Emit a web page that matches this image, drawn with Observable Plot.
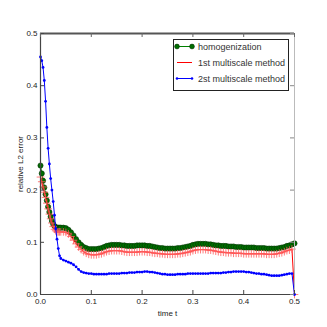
<!DOCTYPE html>
<html><head><meta charset="utf-8">
<script src="https://cdn.jsdelivr.net/npm/d3@7"></script>
<script src="https://cdn.jsdelivr.net/npm/@observablehq/plot@0.6"></script>
<style>
html,body{margin:0;padding:0;background:#fff;}
#wrap{position:relative;width:327px;height:327px;font-family:"Liberation Sans",Arial,sans-serif;}
#legend{position:absolute;left:173px;top:39px;}
</style></head><body><div id="wrap"></div>
<script>
const t = [0, 0.0025, 0.005, 0.0075, 0.01, 0.0125, 0.015, 0.0175, 0.02, 0.0225, 0.025, 0.0275, 0.03, 0.0325, 0.035, 0.0375, 0.04,
  0.045, 0.05, 0.055, 0.06, 0.065, 0.07, 0.075, 0.08, 0.085, 0.09, 0.095, 0.1,
  0.105, 0.11, 0.115, 0.12, 0.125, 0.13, 0.135, 0.14, 0.145, 0.15, 0.155, 0.16, 0.165, 0.17, 0.175, 0.18, 0.185, 0.19, 0.195, 0.2,
  0.205, 0.21, 0.215, 0.22, 0.225, 0.23, 0.235, 0.24, 0.245, 0.25, 0.255, 0.26, 0.265, 0.27, 0.275, 0.28, 0.285, 0.29, 0.295, 0.3,
  0.305, 0.31, 0.315, 0.32, 0.325, 0.33, 0.335, 0.34, 0.345, 0.35, 0.355, 0.36, 0.365, 0.37, 0.375, 0.38, 0.385, 0.39, 0.395, 0.4,
  0.405, 0.41, 0.415, 0.42, 0.425, 0.43, 0.435, 0.44, 0.445, 0.45, 0.455, 0.46, 0.465, 0.47, 0.475, 0.48, 0.485, 0.49, 0.495, 0.5];

const homogenization = [0.247, 0.232, 0.218, 0.205, 0.192, 0.18, 0.168, 0.158, 0.149, 0.141, 0.135, 0.131, 0.129, 0.128, 0.128, 0.128, 0.128,
  0.128, 0.127, 0.124, 0.119, 0.113, 0.106, 0.1, 0.095, 0.091, 0.089, 0.087, 0.087,
  0.087, 0.087, 0.088, 0.089, 0.091, 0.093, 0.094, 0.095, 0.095, 0.095, 0.095, 0.094, 0.094, 0.093, 0.093, 0.093, 0.093, 0.094, 0.094, 0.094,
  0.094, 0.093, 0.093, 0.092, 0.091, 0.09, 0.089, 0.089, 0.088, 0.088, 0.088, 0.088, 0.088, 0.089, 0.089, 0.09, 0.091, 0.092, 0.093, 0.095,
  0.096, 0.097, 0.097, 0.097, 0.097, 0.096, 0.096, 0.095, 0.094, 0.094, 0.093, 0.093, 0.093, 0.092, 0.092, 0.092, 0.091, 0.091, 0.091, 0.09,
  0.09, 0.09, 0.09, 0.09, 0.089, 0.089, 0.089, 0.089, 0.088, 0.088, 0.088, 0.088, 0.088, 0.089, 0.09, 0.091, 0.093, 0.094, 0.096, 0.098];

const multiscale1 = [0.225, 0.216, 0.206, 0.196, 0.186, 0.175, 0.164, 0.154, 0.145, 0.137, 0.13, 0.125, 0.122, 0.12, 0.12, 0.12, 0.12,
  0.12, 0.119, 0.116, 0.111, 0.104, 0.097, 0.091, 0.086, 0.082, 0.079, 0.077, 0.076,
  0.076, 0.076, 0.077, 0.078, 0.08, 0.082, 0.083, 0.084, 0.084, 0.084, 0.084, 0.083, 0.082, 0.081, 0.081, 0.081, 0.081, 0.081, 0.082, 0.082,
  0.082, 0.081, 0.081, 0.08, 0.079, 0.079, 0.078, 0.078, 0.077, 0.077, 0.077, 0.077, 0.077, 0.078, 0.078, 0.079, 0.08, 0.081, 0.082, 0.084,
  0.085, 0.086, 0.086, 0.086, 0.086, 0.085, 0.085, 0.084, 0.083, 0.082, 0.081, 0.081, 0.08, 0.08, 0.08, 0.079, 0.079, 0.079, 0.079, 0.078,
  0.078, 0.078, 0.078, 0.078, 0.078, 0.078, 0.078, 0.078, 0.077, 0.077, 0.077, 0.077, 0.078, 0.079, 0.08, 0.082, 0.084, 0.085, 0.087, 0.0];

const multiscale2 = [0.455, 0.448, 0.435, 0.41, 0.37, 0.32, 0.28, 0.25, 0.222, 0.2, 0.178, 0.152, 0.126, 0.106, 0.088, 0.074, 0.069,
  0.066, 0.064, 0.062, 0.06, 0.057, 0.053, 0.048, 0.044, 0.042, 0.041, 0.04, 0.04,
  0.039, 0.039, 0.039, 0.039, 0.039, 0.039, 0.04, 0.04, 0.04, 0.04, 0.04, 0.041, 0.041, 0.041, 0.042, 0.042, 0.042, 0.043, 0.043, 0.043,
  0.044, 0.044, 0.043, 0.043, 0.042, 0.041, 0.04, 0.039, 0.039, 0.038, 0.038, 0.038, 0.038, 0.039, 0.039, 0.039, 0.039, 0.04, 0.04, 0.04,
  0.04, 0.04, 0.04, 0.04, 0.04, 0.04, 0.041, 0.041, 0.041, 0.041, 0.041, 0.042, 0.042, 0.043, 0.043, 0.044, 0.044, 0.044, 0.044, 0.044,
  0.043, 0.043, 0.042, 0.041, 0.04, 0.04, 0.039, 0.039, 0.038, 0.037, 0.036, 0.036, 0.036, 0.036, 0.037, 0.038, 0.039, 0.04, 0.04, 0.0];

const seriesNames = ["homogenization", "1st multiscale method", "2st multiscale method"];
const xTicks = [0, 0.1, 0.2, 0.3, 0.4, 0.5];
const yTicks = [0, 0.1, 0.2, 0.3, 0.4, 0.5];
const xDomain = [0, 0.5];
const yDomain = [0, 0.5];
const xLabel = "time t";
const yLabel = "relative L2 error";

const rows = t.map((tt, i) => ({t: tt, h: homogenization[i], a: multiscale1[i], b: multiscale2[i]}));

const W = 327, H = 327, mL = 40, mR = 33, mT = 33, mB = 33;
const iw = W - mL - mR, ih = H - mT - mB;
const fmt = d3.format(".1f");

const chart = Plot.plot({
  width: W, height: H,
  marginLeft: mL, marginRight: mR, marginTop: mT, marginBottom: mB,
  style: {fontFamily: "'Liberation Sans', Arial, sans-serif", fontSize: "8px", color: "#222", background: "white", overflow: "visible"},
  x: {domain: xDomain},
  y: {domain: yDomain},
  marks: [
    Plot.axisX(xTicks, {tickSize: 0, tickPadding: 4, tickFormat: fmt, label: xLabel, labelArrow: "none", labelAnchor: "center", labelOffset: 21}),
    Plot.axisY(yTicks, {tickSize: 0, tickPadding: 3, tickFormat: fmt, label: yLabel, labelArrow: "none", labelAnchor: "center", labelOffset: 23}),
    Plot.line(rows, {x: "t", y: "h", stroke: "#008000", strokeWidth: 1}),
    Plot.dot(rows, {x: "t", y: "h", r: 2.6, fill: "#006e00", stroke: "#003300", strokeWidth: 0.6}),
    Plot.line(rows, {x: "t", y: "a", stroke: "#ff0000", strokeWidth: 1}),
    Plot.dot(rows, {x: "t", y: "a", symbol: "plus", r: 2.6, stroke: "#ff5a5a", strokeWidth: 0.8}),
    Plot.line(rows, {x: "t", y: "b", stroke: "#0000ff", strokeWidth: 1}),
    Plot.dot(rows, {x: "t", y: "b", r: 1.4, fill: "#0000ff"}),
    Plot.ruleX([xDomain[0]], {stroke: "#444", strokeWidth: 1.2}),
    Plot.ruleX([xDomain[1]], {stroke: "#bbb", strokeWidth: 1}),
    Plot.ruleY([yDomain[0]], {stroke: "#444", strokeWidth: 1.2}),
    Plot.ruleY([yDomain[1]], {stroke: "#555", strokeWidth: 2}),
    Plot.tickY(yTicks, {y: d => d, insetRight: iw - 4, stroke: "#444"}),
    Plot.tickY(yTicks, {y: d => d, insetLeft: iw - 4, stroke: "#888"}),
    Plot.tickX(xTicks, {x: d => d, insetTop: ih - 4, stroke: "#444"}),
    Plot.tickX(xTicks, {x: d => d, insetBottom: ih - 4, stroke: "#666"})
  ]
});
const wrap = document.getElementById("wrap");
wrap.appendChild(chart);

// Legend (layout overlay)
const legendColors = ["#008000", "#ff0000", "#0000ff"];
const lw = 115, lh = 51;
const lg = d3.create("svg").attr("id", "legend").attr("width", lw + 1).attr("height", lh + 1);
lg.append("rect").attr("x", 0.5).attr("y", 0.5).attr("width", lw).attr("height", lh)
  .attr("fill", "white").attr("stroke", "#222").attr("stroke-width", 1);
seriesNames.forEach((name, i) => {
  const cy = 7.5 + i * 16;
  const g = lg.append("g");
  g.append("line").attr("x1", 4).attr("x2", 19).attr("y1", cy).attr("y2", cy)
    .attr("stroke", legendColors[i]).attr("stroke-width", 1);
  if (i === 0) {
    [4, 19].forEach(cx => g.append("circle").attr("cx", cx).attr("cy", cy).attr("r", 2.4)
      .attr("fill", "#006e00").attr("stroke", "#003300").attr("stroke-width", 0.6));
  } else if (i === 2) {
    [4, 19].forEach(cx => g.append("circle").attr("cx", cx).attr("cy", cy).attr("r", 1.3).attr("fill", "#0000ff"));
  }
  g.append("text").attr("x", 25).attr("y", cy).attr("dy", "0.35em")
    .attr("font-family", "'Liberation Sans', Arial, sans-serif").attr("font-size", 9).attr("fill", "#333")
    .text(name);
});
wrap.appendChild(lg.node());
</script>
</body></html>
